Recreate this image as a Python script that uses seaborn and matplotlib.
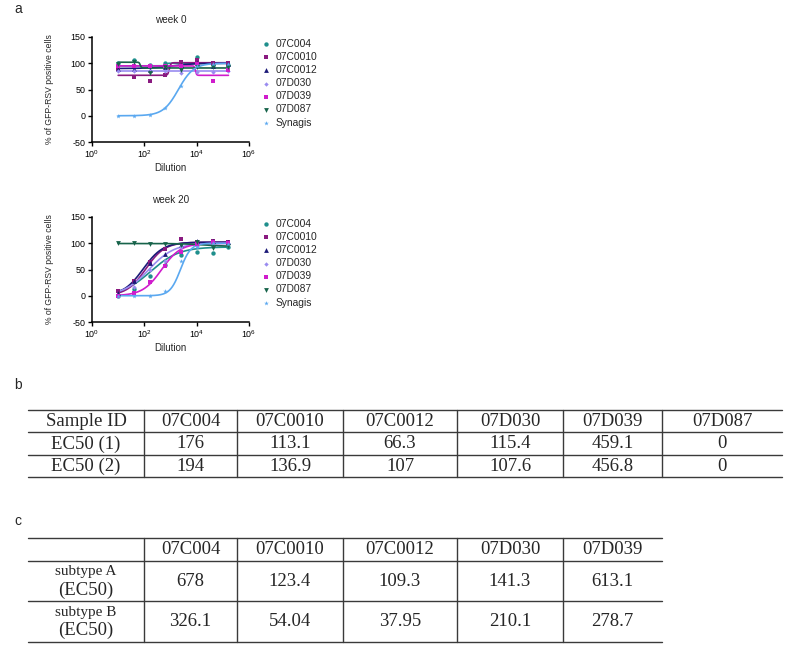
import numpy as np
import pandas as pd
import matplotlib
matplotlib.use("Agg")
import matplotlib.pyplot as plt
import seaborn as sns
from matplotlib.ticker import FixedLocator, NullLocator

# ---------------- data ----------------
samples = ["07C004", "07C0010", "07C0012", "07D030", "07D039", "07D087", "Synagis"]
dilutions = [10, 40, 160, 640, 2560, 10240, 40960, 163840]

# week 0 measured points (% GFP-RSV positive cells)
w0_07C004 = [101, 106, 96, 100, 101, 111, 96, 97]
w0_07C0010 = [90, 73, 67, 78, 102, 106, 101, 100]
w0_07C0012 = [90, 90, 88, 92, 97, 100, 95, 98]
w0_07D030 = [86, 86, 85, 85, 82, 83, 83, 85]
w0_07D039 = [95, 95, 95, 95, 95, 98, 66, 87]
w0_07D087 = [98, 103, 82, 93, 88, 93, 92, 92]
w0_Synagis = [0, 0, 1, 15, 57, 95, 98, 99]

# week 20 measured points
w20_07C004 = [0, 13, 37, 58, 77, 83, 81, 93]
w20_07C0010 = [10, 29, 64, 89, 109, 102, 104, 102]
w20_07C0012 = [5, 29, 63, 80, 96, 105, 104, 102]
w20_07D030 = [0, 16, 50, 67, 92, 95, 102, 100]
w20_07D039 = [0, 5, 26, 56, 83, 99, 102, 100]
w20_07D087 = [101, 100, 99, 98, 97, 103, 91, 95]
w20_Synagis = [0, 0, 0, 10, 67, 92, 100, 99]

# fitted sigmoid parameters (low plateau, high plateau, EC50, slope)
w0_low = [95, 77, 90, 85, 95, 102, 0]
w0_high = [100, 101, 100, 85, 77, 91, 100]
w0_ec50 = [700, 900, 1200, 1000, 9000, 70, 2000]
w0_hill = [20, 15, 1, 1, 20, 20, 1.5]

w20_low = [0, 0, 0, 0, 0, 99.5, 0]
w20_high = [93, 102, 102, 100, 100, 94, 100]
w20_ec50 = [176, 113, 90, 150, 459, 20000, 2400]
w20_hill = [0.8, 1.2, 1.15, 0.9, 1.2, 1, 2.2]

# table b
b_header = ["Sample ID", "07C004", "07C0010", "07C0012", "07D030", "07D039", "07D087"]
b_row1 = ["EC50 (1)", "176", "113.1", "66.3", "115.4", "459.1", "0"]
b_row2 = ["EC50 (2)", "194", "136.9", "107", "107.6", "456.8", "0"]

# table c
c_header = ["", "07C004", "07C0010", "07C0012", "07D030", "07D039"]
c_rowA = ["678", "123.4", "109.3", "141.3", "613.1"]
c_rowB = ["326.1", "54.04", "37.95", "210.1", "278.7"]
c_rowlabels = [("subtype A", "(EC50)"), ("subtype B", "(EC50)")]

# ---------------- style ----------------
sns.set_theme(style="ticks")
plt.rcParams["font.family"] = ["Liberation Sans", "DejaVu Sans"]
plt.rcParams["mathtext.fontset"] = "custom"
plt.rcParams["mathtext.rm"] = "Liberation Sans"
plt.rcParams["mathtext.it"] = "Liberation Sans"
plt.rcParams["mathtext.default"] = "regular"
plt.rcParams["axes.unicode_minus"] = False

palette = {
    "07C004": "#1f8f8c",
    "07C0010": "#8a1a80",
    "07C0012": "#1c1a78",
    "07D030": "#9a8cf0",
    "07D039": "#d01ccc",
    "07D087": "#17634a",
    "Synagis": "#5aa8f0",
}
markers = {
    "07C004": "o",
    "07C0010": "s",
    "07C0012": "^",
    "07D030": "D",
    "07D039": "s",
    "07D087": "v",
    "Synagis": "*",
}
sizes = {"07C004": 10, "07C0010": 12, "07C0012": 12, "07D030": 5,
         "07D039": 7, "07D087": 12, "Synagis": 12}

W, H = 800, 668
fig = plt.figure(figsize=(8.0, 6.68), dpi=100)


def build_frames(points, low, high, ec50, hill):
    rows = []
    for s, vals in zip(samples, points):
        for d, v in zip(dilutions, vals):
            rows.append({"Dilution": d, "value": v, "sample": s})
    pts = pd.DataFrame(rows)
    xs = np.logspace(np.log10(dilutions[0]), np.log10(dilutions[-1]), 300)
    crows = []
    for s, lo, hi, ec, h in zip(samples, low, high, ec50, hill):
        ys = lo + (hi - lo) / (1.0 + (ec / xs) ** h)
        for x, y in zip(xs, ys):
            crows.append({"Dilution": x, "value": y, "sample": s})
    return pts, pd.DataFrame(crows)


def draw_panel(rect, title, points, low, high, ec50, hill):
    ax = fig.add_axes(rect)
    pts, crv = build_frames(points, low, high, ec50, hill)
    sns.lineplot(data=crv, x="Dilution", y="value", hue="sample", palette=palette,
                 hue_order=samples, linewidth=1.2, legend=False, ax=ax, sort=True)
    for s in samples:
        sub = pts[pts["sample"] == s]
        sns.scatterplot(data=sub, x="Dilution", y="value", color=palette[s],
                        marker=markers[s], s=sizes[s], linewidth=0, ax=ax,
                        label=s, zorder=5)
    ax.set_xscale("log")
    ax.set_xlim(1, 1e6)
    ax.set_ylim(-50, 150)
    ax.xaxis.set_major_locator(FixedLocator([1, 1e2, 1e4, 1e6]))
    ax.xaxis.set_minor_locator(NullLocator())
    ax.set_xticklabels([r"$10^{0}$", r"$10^{2}$", r"$10^{4}$", r"$10^{6}$"])
    ax.set_yticks([-50, 0, 50, 100, 150])
    ax.tick_params(axis="both", labelsize=6.4, length=3, width=1, pad=1.5, colors="black")
    for sp in ["left", "bottom"]:
        ax.spines[sp].set_linewidth(1.1)
        ax.spines[sp].set_color("black")
    sns.despine(ax=ax)
    ax.set_xlabel("Dilution", fontsize=7, labelpad=2)
    ax.set_ylabel("% of GFP-RSV positive cells", fontsize=6.2, labelpad=12)
    ax.set_title(title, fontsize=7.2, pad=10)
    ax.legend(loc="upper left", bbox_to_anchor=(1.05, 1.02), frameon=False,
              fontsize=7.4, handletextpad=0.4, labelspacing=0.3,
              borderaxespad=0, handlelength=1.0, markerscale=1.0)
    return ax


ax0 = draw_panel([92 / W, 1 - 142 / H, 157 / W, 105 / H], "week 0",
                 [w0_07C004, w0_07C0010, w0_07C0012, w0_07D030, w0_07D039, w0_07D087, w0_Synagis],
                 w0_low, w0_high, w0_ec50, w0_hill)
ax1 = draw_panel([92 / W, 1 - 322 / H, 157 / W, 105 / H], "week 20",
                 [w20_07C004, w20_07C0010, w20_07C0012, w20_07D030, w20_07D039, w20_07D087, w20_Synagis],
                 w20_low, w20_high, w20_ec50, w20_hill)

# ---------------- tables ----------------
tab = fig.add_axes([0, 0, 1, 1], zorder=-1)
tab.set_xlim(0, W)
tab.set_ylim(H, 0)
tab.axis("off")

serif = ["Liberation Serif", "DejaVu Serif"]
line_kw = dict(color="#3a3a3a", linewidth=1.0)

# panel letters
for letter, (lx, ly) in zip(["a", "b", "c"], [(18, 9), (18, 385), (18, 521)]):
    tab.text(lx, ly, letter, fontsize=10, ha="center", va="center",
             family=["Liberation Sans", "DejaVu Sans"])

# table b
b_cols = [28, 144, 237, 343, 457, 563, 662, 782]
b_rows = [410, 432, 455, 477]
for y in b_rows:
    tab.plot([b_cols[0], b_cols[-1]], [y, y], **line_kw)
for x in b_cols[1:-1]:
    tab.plot([x, x], [b_rows[0], b_rows[-1]], **line_kw)
b_centers = [(b_cols[i] + b_cols[i + 1]) / 2 for i in range(len(b_cols) - 1)]
for row, yc in zip([b_header, b_row1, b_row2], [421.5, 444, 466.5]):
    for txt, xc in zip(row, b_centers):
        tab.text(xc, yc, txt, fontsize=13.5, ha="center", va="center", family=serif)

# table c
c_cols = [28, 144, 237, 343, 457, 563, 662]
c_rows = [538, 561, 601, 642]
for y in c_rows:
    tab.plot([c_cols[0], c_cols[-1]], [y, y], **line_kw)
for x in c_cols[1:-1]:
    tab.plot([x, x], [c_rows[0], c_rows[-1]], **line_kw)
c_centers = [(c_cols[i] + c_cols[i + 1]) / 2 for i in range(len(c_cols) - 1)]
for txt, xc in zip(c_header, c_centers):
    tab.text(xc, 550, txt, fontsize=13.5, ha="center", va="center", family=serif)
for (l1, l2), vals, yc in zip(c_rowlabels, [c_rowA, c_rowB], [581, 621.5]):
    tab.text(c_centers[0], yc - 9, l1, fontsize=11, ha="center", va="center", family=serif)
    tab.text(c_centers[0], yc + 9, l2, fontsize=13.5, ha="center", va="center", family=serif)
    for txt, xc in zip(vals, c_centers[1:]):
        tab.text(xc, yc, txt, fontsize=13.5, ha="center", va="center", family=serif)

fig.savefig("out.png", dpi=100, facecolor="white")
